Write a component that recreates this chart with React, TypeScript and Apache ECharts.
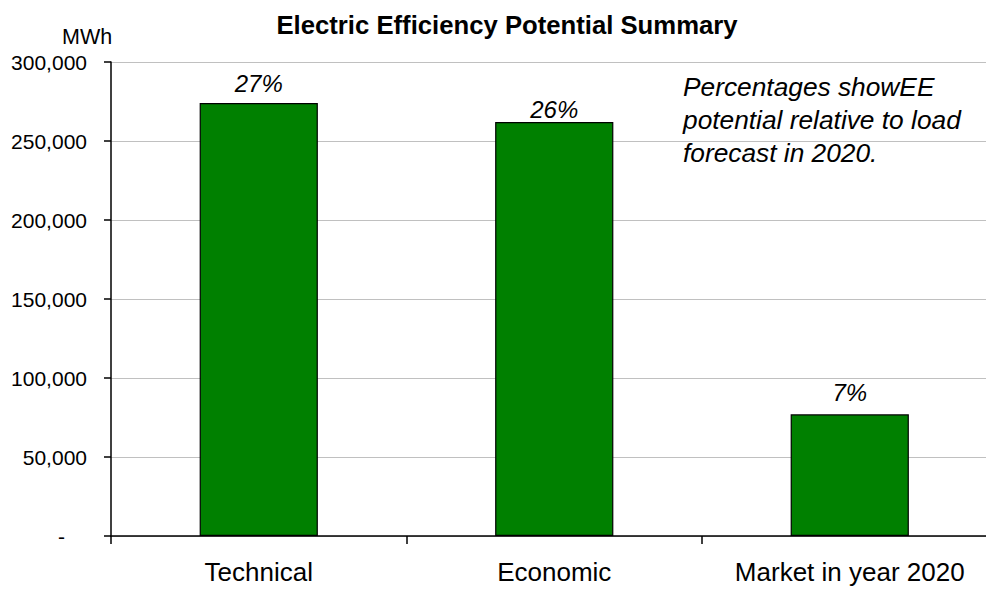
import React, { useEffect, useRef } from "react";
import * as echarts from "echarts";

const categories = ["Technical", "Economic", "Market in year 2020"];
const potentialMWh = [274000, 262000, 77000];
const percentOfLoad = [27, 26, 7];
const yTicks = { min: 0, max: 300000, interval: 50000 };
const titleText = "Electric Efficiency Potential Summary";
const unitText = "MWh";
const noteLines = [
  "Percentages showEE",
  "potential relative to load",
  "forecast in 2020.",
];

const FONT = "'Liberation Sans', Arial, sans-serif";

export default function App() {
  const ref = useRef<HTMLDivElement>(null);

  useEffect(() => {
    if (!ref.current) return;
    const chart = echarts.init(ref.current, undefined, { renderer: "svg" });
    // gap between each bar top and its percentage label
    const labelGaps = [8, 1, 10];
    chart.setOption({
      animation: false,
      backgroundColor: "#ffffff",
      textStyle: { fontFamily: FONT, color: "#000" },
      title: {
        text: titleText,
        left: 502,
        textAlign: "center",
        top: 7,
        textStyle: { fontFamily: FONT, fontSize: 25.7, fontWeight: "bold", color: "#000" },
      },
      graphic: [
        {
          type: "text",
          left: 62,
          top: 26,
          style: { text: unitText, fontFamily: FONT, fontSize: 21.5, fill: "#000" },
        },
        {
          type: "text",
          left: 683,
          top: 70,
          style: {
            text: noteLines.join("\n"),
            fontFamily: FONT,
            fontSize: 26.3,
            fontStyle: "italic",
            lineHeight: 33,
            fill: "#000",
          },
        },
      ],
      // the plot runs a little past the right edge of the visible area
      grid: { left: 111, top: 62, width: 886.5, height: 474 },
      xAxis: {
        type: "category",
        data: categories,
        axisLine: { lineStyle: { color: "#000", width: 1.5 } },
        axisTick: { show: true, length: 8, lineStyle: { color: "#000", width: 1.5 } },
        axisLabel: {
          interval: 0,
          fontFamily: FONT,
          fontSize: 26,
          color: "#000",
          margin: 23,
        },
      },
      yAxis: {
        type: "value",
        min: yTicks.min,
        max: yTicks.max,
        interval: yTicks.interval,
        axisLine: { show: true, lineStyle: { color: "#000", width: 1.5 } },
        axisTick: { show: true, length: 7, lineStyle: { color: "#000", width: 1.5 } },
        splitLine: { lineStyle: { color: "#c0c0c0", width: 1.2 } },
        axisLabel: {
          fontFamily: FONT,
          fontSize: 21,
          color: "#000",
          margin: 24,
          formatter: (v: number) =>
            v === 0 ? "{z|-}" : v.toLocaleString("en-US"),
          rich: { z: { fontFamily: FONT, fontSize: 21, padding: [0, 22, 0, 0] } },
        },
      },
      series: [
        {
          type: "bar",
          data: potentialMWh.map((v, i) => ({
            value: v,
            label: { distance: labelGaps[i] },
          })),
          barWidth: "40%",
          itemStyle: { color: "#008000", borderColor: "#000", borderWidth: 1.2 },
          label: {
            show: true,
            position: "top",
            fontFamily: FONT,
            fontSize: 24,
            fontStyle: "italic",
            color: "#000",
            formatter: (p: any) => `${percentOfLoad[p.dataIndex]}%`,
          },
        },
      ],
    });
    return () => chart.dispose();
  }, []);

  return (
    <div
      style={{
        position: "fixed",
        left: 0,
        top: 0,
        width: 986,
        height: 592,
        overflow: "hidden",
        background: "#fff",
      }}
    >
      <div ref={ref} style={{ width: 1000, height: 592 }} />
    </div>
  );
}
